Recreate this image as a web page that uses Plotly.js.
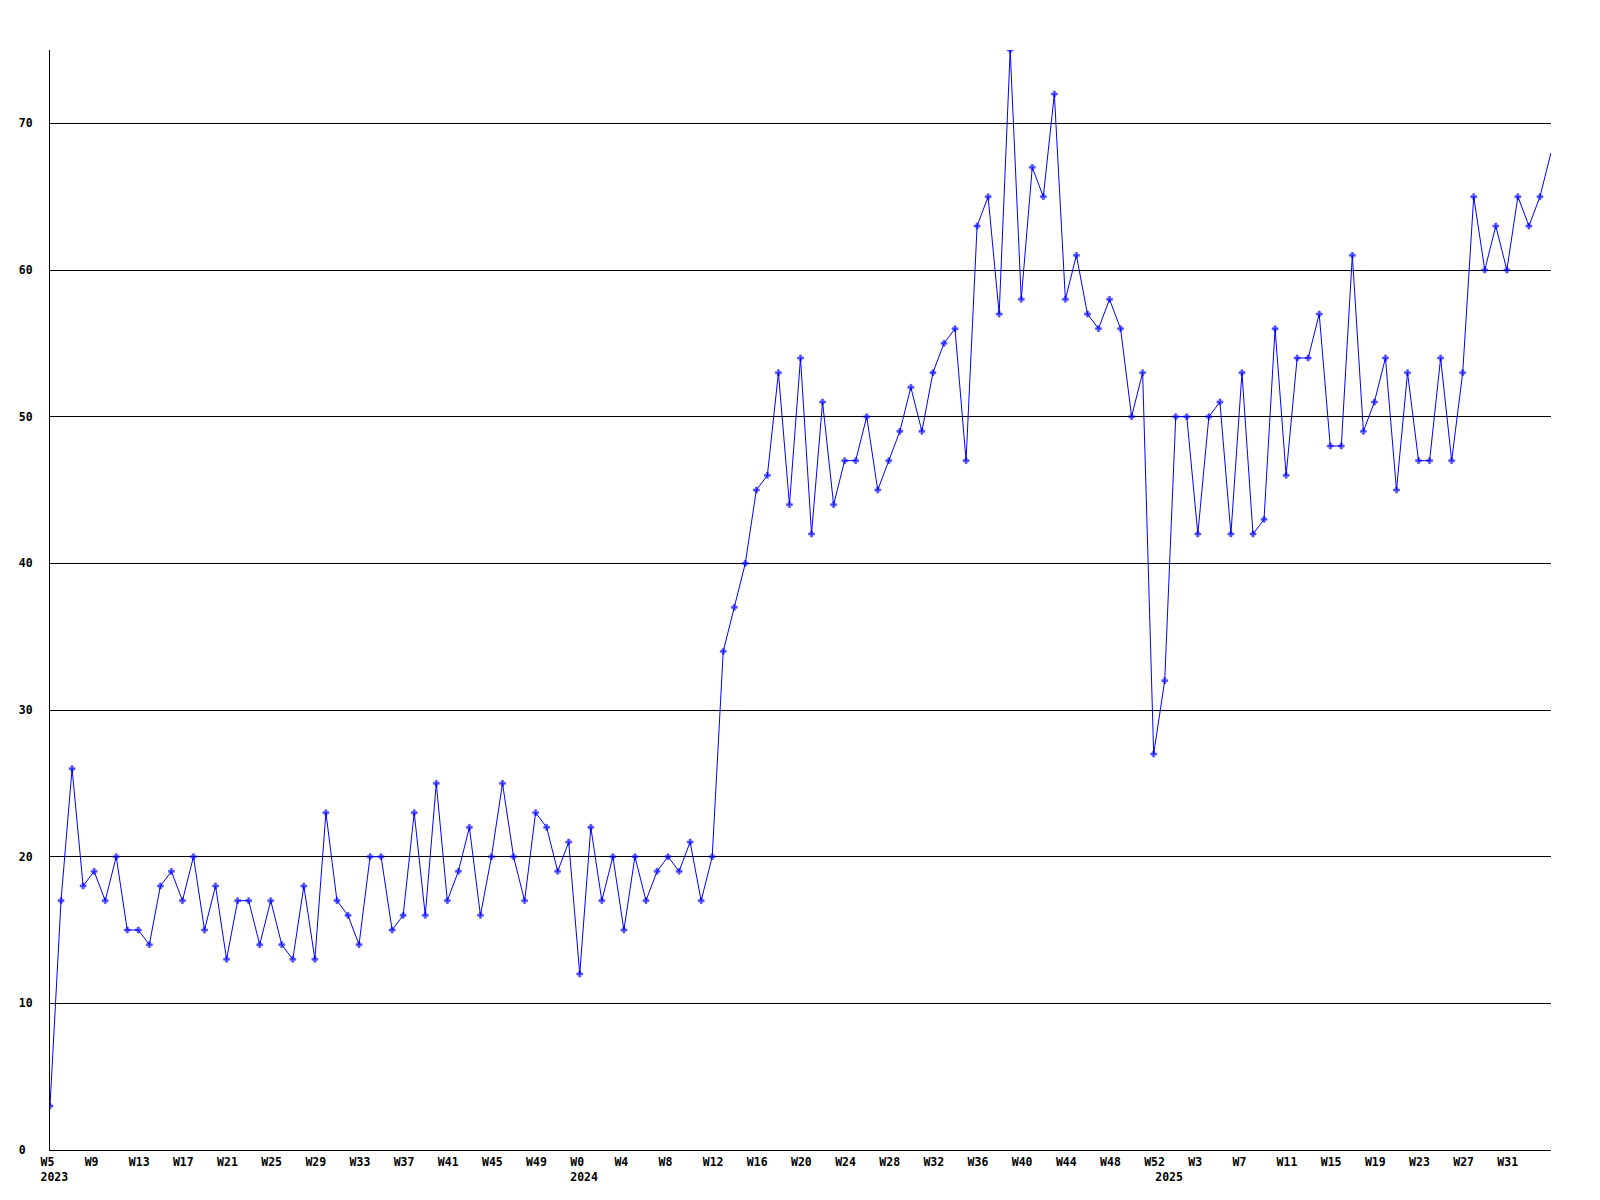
<!DOCTYPE html>
<html>
<head>
<meta charset="utf-8">
<script src="https://cdn.plot.ly/plotly-3.0.1.min.js"></script>
<style>html,body{margin:0;padding:0;background:#fff;}#chart{width:1600px;height:1200px;}</style>
</head>
<body>
<div id="chart"></div>
<script>
// Weekly series: 2023 W5 .. 2025 W35
const years = [2023, 2024, 2025];
const firstWeek = [5, 0, 0];
const lastWeek = [52, 52, 35];

const values2023 = [3,17,26,18,19,17,20,15,15,14,18,19,17,20,15,18,13,17,17,14,17,14,13,18,13,23,17,16,14,20,20,15,
  16,23,16,25,17,19,22,16,20,25,20,17,23,22,19,21];
const values2024 = [12,22,17,20,15,20,17,19,20,19,21,17,20,
  34,37,40,45,46,53,44,54,42,51,44,47,47,50,45,47,49,52,49,53,55,56,
  47,63,65,57,75,58,67,65,72,58,61,57,56,58,56,50,53,27];
const values2025 = [32,50,50,42,50,51,42,53,42,43,56,46,54,54,57,48,48,61,
  49,51,54,45,53,47,47,54,47,53,65,60,63,60,65,63,65,68];

const yTickVals = [0,10,20,30,40,50,60,70];
const yTickText = ["0\u00a0","10","20","30","40","50","60","70"];

// build categories
const cats = [], weekOf = [], yearOf = [], isFirst = [];
const vals = [].concat(values2023, values2024, values2025);
years.forEach((yr, k) => {
  for (let w = firstWeek[k]; w <= lastWeek[k]; w++) {
    cats.push(yr + " W" + w);
    weekOf.push("W" + w);
    yearOf.push(yr);
    isFirst.push(w === firstWeek[k]);
  }
});

const tickvals = [], ticktext = [];
cats.forEach((c, i) => {
  if (i === cats.length - 1) return; // last point sits on the plot edge, unlabeled
  const wk = (i % 4 === 0);
  if (wk || isFirst[i]) {
    tickvals.push(c);
    ticktext.push((wk ? weekOf[i] : "\u00a0") + (isFirst[i] ? "<br>" + yearOf[i] : ""));
  }
});

const markerSizes = vals.map((v, i) => (i === vals.length - 1 ? 0 : 5));

const font = {family: "DejaVu Sans Mono", size: 11.5, color: "#000", weight: "bold"};

Plotly.newPlot("chart", [{
  x: cats, y: vals, type: "scatter", mode: "lines+markers",
  line: {color: "#0000ff", width: 1},
  marker: {color: "#0000ff", symbol: "cross", size: markerSizes, line: {width: 0.6, color: "#0000ff"}},
  cliponaxis: true, hoverinfo: "x+y"
}], {
  width: 1600, height: 1200,
  margin: {l: 50, r: 49, t: 50, b: 50, pad: 0},
  paper_bgcolor: "#fff", plot_bgcolor: "#fff",
  showlegend: false,
  font: font,
  xaxis: {
    type: "category", range: [0, cats.length - 1], autorange: false,
    showgrid: false, zeroline: false,
    showline: true, linecolor: "#000", linewidth: 1,
    ticks: "", tickvals: tickvals, ticktext: ticktext,
    ticklabelposition: "outside right", ticklabelshift: -10, ticklabelstandoff: 1,
    tickangle: 0, tickfont: font, fixedrange: true
  },
  yaxis: {
    range: [0, 75], autorange: false,
    showgrid: true, gridcolor: "#000", gridwidth: 1,
    zeroline: false, showline: true, linecolor: "#000", linewidth: 1,
    ticks: "", tickvals: yTickVals, ticktext: yTickText,
    ticklabelstandoff: 14, tickfont: font, fixedrange: true
  }
}, {displayModeBar: false, staticPlot: true});
</script>
</body>
</html>
